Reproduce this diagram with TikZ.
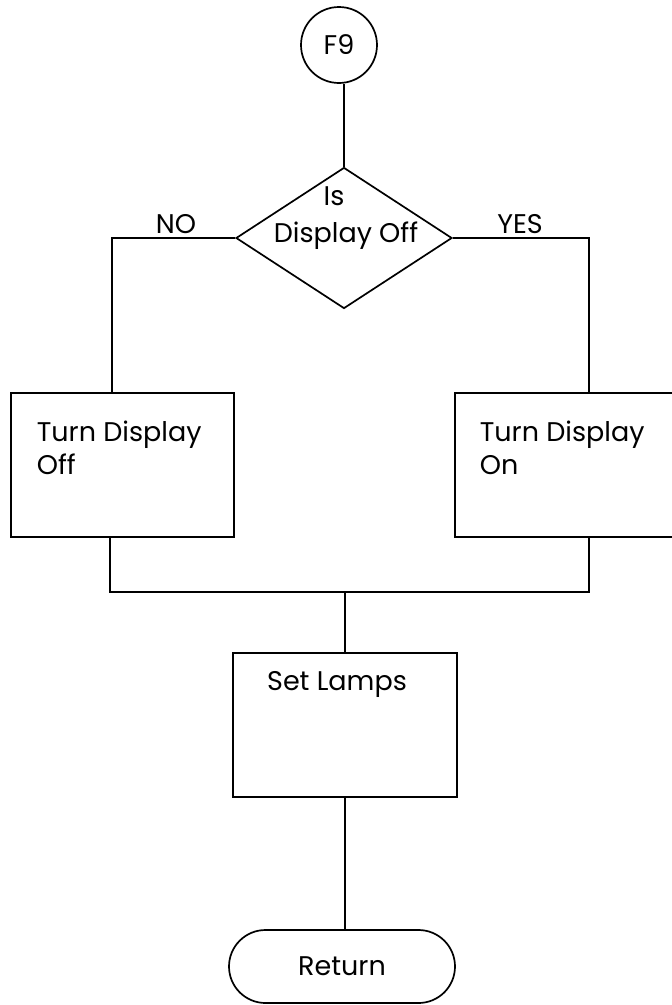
\documentclass[tikz,border=0pt]{standalone}
\usepackage{fontspec}
\setmainfont{Poppins}
\usepackage{tikz}
\usetikzlibrary{positioning, shapes.geometric, shapes.misc}

\begin{document}
\begin{tikzpicture}[x=1pt, y=-1pt, line width=1.7pt,
    font=\fontsize{27}{33}\selectfont,
    circ/.style={circle, draw, minimum size=76pt, inner sep=0pt},
    decision/.style={diamond, draw, minimum width=216pt, minimum height=141pt, inner sep=0pt},
    proc/.style={rectangle, draw, minimum width=223pt, minimum height=144pt, inner sep=0pt},
    term/.style={rounded rectangle, draw, minimum width=226pt, minimum height=73pt, inner sep=0pt},
    lbl/.style={inner sep=0pt, anchor=base}]
    \useasboundingbox (0,0) rectangle (672,1005);
    % entree
    \node[circ] (f9) at (339,45) {F9};
    % test
    \node[decision] (test) at (344,238) {};
    \node[lbl] (testa) at (334,205) {Is};
    \node[lbl] (testb) at (346,242) {Display Off};
    \node[lbl] (no) at (176,233) {NO};
    \node[lbl] (yes) at (520,233) {YES};
    % les deux branches
    \node[proc] (off) at (122.5,465) {};
    \node[inner sep=0pt, anchor=base west, align=left] (offtxt) at (36,474) {Turn Display\\Off};
    \node[proc] (on) at (566.5,465) {};
    \node[inner sep=0pt, anchor=base west, align=left] (ontxt) at (479,474) {Turn Display\\On};
    % suite
    \node[proc, minimum width=224pt] (lamps) at (345,725) {};
    \node[lbl] (lampstxt) at (337,690) {Set Lamps};
    \node[term] (ret) at (342,966.5) {Return};
    \coordinate (join) at (345,592);
    \draw (test.north |- f9.south) -- (test.north);
    \draw (test.west) -| ([xshift=-10.5pt]off.north);
    \draw (test.east) -| ([xshift=22.5pt]on.north);
    \draw ([xshift=-12.5pt]off.south) |- (join) -| ([xshift=22.5pt]on.south);
    \draw (join) -- (lamps);
    \draw (lamps.south) -- (lamps.south |- ret.north);
  \end{tikzpicture}
\end{document}
